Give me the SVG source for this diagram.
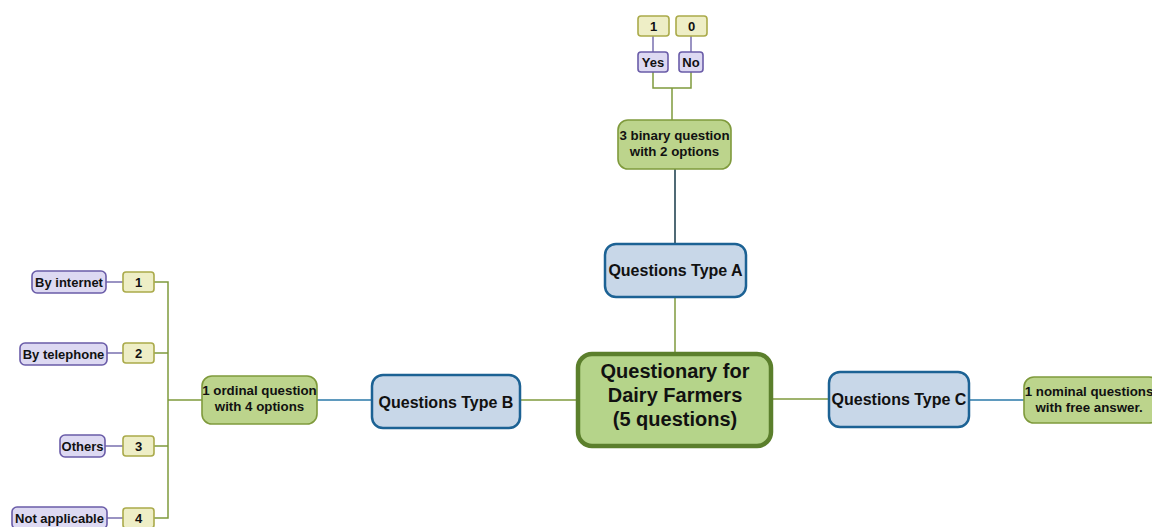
<svg xmlns="http://www.w3.org/2000/svg" width="1152" height="527" viewBox="0 0 1152 527">
<style>
text{font-family:"Liberation Sans",Arial,sans-serif;font-weight:bold;fill:#111;text-anchor:middle}
.q{fill:#c8d7e8;stroke:#1c6294;stroke-width:2.5}
.g{fill:#bcd48c;stroke:#7f9a3c;stroke-width:1.6}
.p{fill:#ddd9f2;stroke:#6a5ca8;stroke-width:1.6}
.n{fill:#eeeec6;stroke:#aaaa4a;stroke-width:1.6}
.lo{stroke:#7f9a3c;stroke-width:1.5;fill:none}
.lb{stroke:#2a78a8;stroke-width:1.5;fill:none}
.lp{stroke:#7a70b0;stroke-width:1.5;fill:none}
.ld{stroke:#3d5a66;stroke-width:1.8;fill:none}
.t15{font-size:16px}
.t12{font-size:13.3px}
.t11{font-size:13px}
</style>
<g id="connectors">
<path class="lp" d="M653 36V52M691 36V52"/>
<path class="lo" d="M653 72V88H691V72M672 88V120"/>
<path class="ld" d="M675 169V244"/>
<path class="lo" d="M675 297V354"/>
<path class="lo" d="M520 400H578"/>
<path class="lb" d="M317 400H372"/>
<path class="lo" d="M202 400H168M154 282H168V518H154M154 353H168M154 446H168"/>
<path class="lp" d="M106 282H123M107 353H123M105 446H123M107 518H123"/>
<path class="lo" d="M771 399H829"/>
<path class="lb" d="M969 400H1024"/>
</g>
<g id="center"><rect x="578" y="354" width="193" height="92" rx="14" fill="#b5d48a" stroke="#5b7f2c" stroke-width="4.5"/>
<text x="675" y="378" font-size="20">Questionary for</text><text x="675" y="402" font-size="20">Dairy Farmers</text><text x="675" y="426" font-size="20">(5 questions)</text></g>
<g id="typeA"><rect class="q" x="605" y="244" width="141" height="53" rx="11"/><text class="t15" x="675.5" y="276">Questions Type A</text></g>
<g id="typeB"><rect class="q" x="372" y="375" width="148" height="53" rx="11"/><text class="t15" x="446" y="408">Questions Type B</text></g>
<g id="typeC"><rect class="q" x="829" y="372" width="140" height="55" rx="11"/><text class="t15" x="899" y="405">Questions Type C</text></g>
<g id="binary"><rect class="g" x="618" y="120" width="113" height="49" rx="10"/><text class="t12" x="674.5" y="140">3 binary question</text><text class="t12" x="674.5" y="156">with 2 options</text></g>
<g id="yes"><rect class="p" x="638" y="52" width="30" height="20" rx="3"/><text class="t11" x="653" y="66.5">Yes</text></g>
<g id="no"><rect class="p" x="679" y="52" width="24" height="20" rx="3"/><text class="t11" x="691" y="66.5">No</text></g>
<g id="v1"><rect class="n" x="638" y="16" width="31" height="20" rx="3"/><text class="t11" x="653.5" y="30.5">1</text></g>
<g id="v0"><rect class="n" x="676" y="16" width="31" height="20" rx="3"/><text class="t11" x="691.5" y="30.5">0</text></g>
<g id="ordinal"><rect class="g" x="202" y="376" width="115" height="48" rx="10"/><text class="t12" x="259.5" y="395">1 ordinal question</text><text class="t12" x="259.5" y="411">with 4 options</text></g>
<g id="n1"><rect class="n" x="123" y="272" width="31" height="20" rx="3"/><text class="t11" x="138.5" y="286.5">1</text></g>
<g id="n2"><rect class="n" x="123" y="343" width="31" height="20" rx="3"/><text class="t11" x="138.5" y="357.5">2</text></g>
<g id="n3"><rect class="n" x="123" y="436" width="31" height="20" rx="3"/><text class="t11" x="138.5" y="450.5">3</text></g>
<g id="n4"><rect class="n" x="123" y="508" width="31" height="20" rx="3"/><text class="t11" x="138.5" y="522.5">4</text></g>
<g id="internet"><rect class="p" x="32" y="271" width="74" height="22" rx="5"/><text class="t11" x="69" y="286.5">By internet</text></g>
<g id="telephone"><rect class="p" x="20" y="343" width="87" height="22" rx="5"/><text class="t11" x="63.5" y="358.5">By telephone</text></g>
<g id="others"><rect class="p" x="60" y="435" width="45" height="22" rx="5"/><text class="t11" x="82.5" y="450.5">Others</text></g>
<g id="notapplicable"><rect class="p" x="12" y="507" width="95" height="22" rx="5"/><text class="t11" x="59.5" y="522.5">Not applicable</text></g>
<g id="nominal"><rect class="g" x="1024" y="377" width="135" height="46" rx="10"/><text class="t12" x="1089" y="396">1 nominal questions</text><text class="t12" x="1089" y="412">with free answer.</text></g>
</svg>
